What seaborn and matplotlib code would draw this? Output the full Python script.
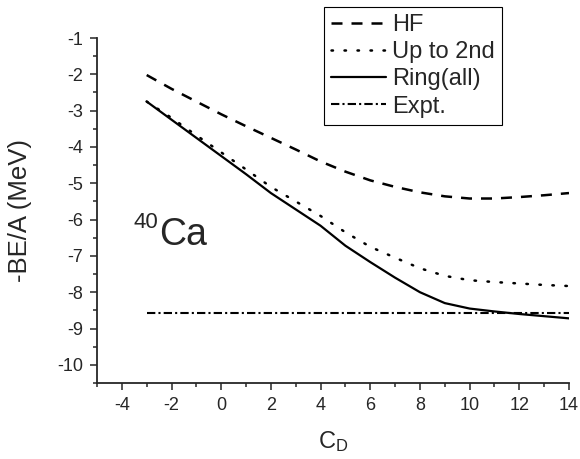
import numpy as np
import matplotlib
matplotlib.use("Agg")
import matplotlib.pyplot as plt
import pandas as pd
import seaborn as sns

# Data
cd = [-3, -2, -1, 0, 1, 2, 3, 4, 5, 6, 7, 8, 9, 10, 11, 12, 13, 14]
hf = [-2.02, -2.40, -2.75, -3.10, -3.43, -3.75, -4.07, -4.40, -4.68, -4.92,
      -5.10, -5.25, -5.36, -5.42, -5.42, -5.38, -5.33, -5.27]
up_to_2nd = [-2.75, -3.20, -3.68, -4.15, -4.62, -5.10, -5.50, -5.90, -6.35, -6.75,
             -7.05, -7.34, -7.55, -7.67, -7.72, -7.76, -7.80, -7.83]
ring_all = [-2.75, -3.25, -3.75, -4.25, -4.75, -5.27, -5.72, -6.17, -6.72, -7.17,
            -7.60, -8.00, -8.30, -8.45, -8.53, -8.60, -8.66, -8.72]
expt = [-8.56] * len(cd)

df = pd.DataFrame({"CD": cd, "HF": hf, "Up to 2nd": up_to_2nd,
                   "Ring(all)": ring_all, "Expt.": expt})

sns.set_style("ticks")
plt.rcParams["font.family"] = ["Liberation Sans", "DejaVu Sans"]
plt.rcParams["mathtext.fontset"] = "custom"
plt.rcParams["mathtext.rm"] = "Liberation Sans"
plt.rcParams["mathtext.it"] = "Liberation Sans"
plt.rcParams["axes.unicode_minus"] = False

fig = plt.figure(figsize=(5.8, 4.59), dpi=100)
ax = fig.add_axes([97/580, 1 - 383/459, (569 - 97)/580, (383 - 38)/459])

# name: (linestyle, linewidth)
styles = {
    "HF": ((0, (4.4, 3.6)), 1.8),
    "Up to 2nd": ((0, (0.6, 4.6)), 1.8),
    "Ring(all)": ("-", 1.6),
    "Expt.": ((0, (4, 1.5, 1, 1.5)), 1.5),
}
for name, (ls, lw) in styles.items():
    sns.lineplot(data=df, x="CD", y=name, ax=ax, color="black", linewidth=lw,
                 linestyle=ls, label=name,
                 dash_capstyle="round" if name == "Up to 2nd" else "butt")

ax.set_xlim(-5, 14)
ax.set_ylim(-10.5, -1)
ax.set_xticks(np.arange(-4, 15, 2))
ax.set_xticks(np.arange(-5, 15, 1), minor=True)
ax.set_yticks(np.arange(-10, 0, 1))
ax.set_yticks(np.arange(-10.5, -0.9, 0.5), minor=True)
ax.tick_params(which="major", length=5, width=1.1, labelsize=13, direction="out")
ax.tick_params(axis="y", which="major", pad=5)
ax.tick_params(axis="x", which="major", pad=5)
ax.tick_params(which="minor", length=3, width=1.1, direction="out")
for s in ["top", "right"]:
    ax.spines[s].set_visible(False)
for s in ["left", "bottom"]:
    ax.spines[s].set_linewidth(1.3)

ax.set_xlabel(r"C$_\mathregular{D}$", fontsize=17)
ax.set_ylabel("-BE/A (MeV)", fontsize=18.5)
ax.xaxis.set_label_coords(0.5, -0.133)
ax.yaxis.set_label_coords(-0.138, 0.5)

ax.text(-3.55, -6.23, "40", fontsize=16, ha="left", va="baseline")
ax.text(-2.5, -5.93, "Ca", fontsize=27, ha="left", va="top")

leg = ax.legend(loc="upper left", bbox_to_anchor=(324/580, 1 - 7/459),
                bbox_transform=fig.transFigure, borderaxespad=0,
                fontsize=17, handlelength=2.33, handletextpad=0.25,
                labelspacing=0.22, borderpad=0.3, frameon=True, fancybox=False)
leg.get_frame().set_edgecolor("black")
leg.get_frame().set_linewidth(0.8)
leg.get_frame().set_alpha(1)

fig.savefig("out.png", dpi=100)
